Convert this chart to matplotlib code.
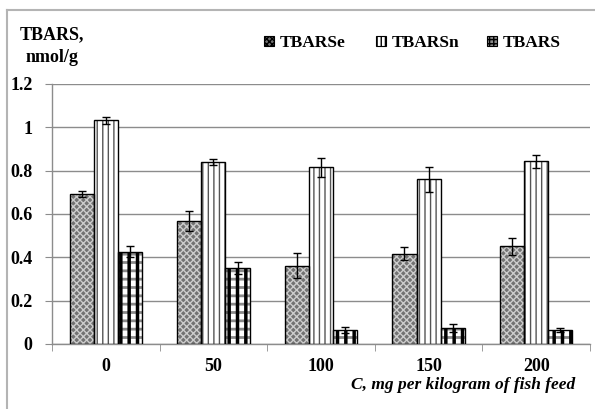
import matplotlib
matplotlib.use("Agg")
import matplotlib.pyplot as plt
import numpy as np
from matplotlib.lines import Line2D
from matplotlib.patches import Patch

categories = ["0", "50", "100", "150", "200"]
tbarse = [0.692, 0.568, 0.361, 0.417, 0.451]
tbarse_err = [0.012, 0.048, 0.057, 0.031, 0.040]
tbarsn = [1.032, 0.841, 0.815, 0.760, 0.843]
tbarsn_err = [0.017, 0.015, 0.045, 0.057, 0.029]
tbars = [0.426, 0.352, 0.065, 0.074, 0.065]
tbars_err = [0.026, 0.028, 0.014, 0.017, 0.011]
yticks = [0, 0.2, 0.4, 0.6, 0.8, 1, 1.2]
ytick_labels = ["0", "0.2", "0.4", "0.6", "0.8", "1", "1.2"]
series_names = ["TBARSe", "TBARSn", "TBARS"]

plt.rcParams['font.family'] = ['Liberation Serif', 'DejaVu Serif']
plt.rcParams['hatch.linewidth'] = 1.0

fig = plt.figure(figsize=(5.95, 4.09), dpi=100)
ax = fig.add_axes([52/595, 1-344/409, 538/595, 260/409])

x = np.arange(len(categories))
w = 0.224

def set_hlw(patch, lw):
    if hasattr(patch, 'set_hatch_linewidth'):
        patch.set_hatch_linewidth(lw)

def draw(vals, errs, offset, layers):
    pos = x + offset
    for fc, hatch, hc, hlw in layers:
        with plt.rc_context({'hatch.linewidth': hlw}):
            bars = ax.bar(pos, vals, w, color=fc if fc else 'none', hatch=hatch,
                          edgecolor=hc, linewidth=0, zorder=2)
        for b in bars:
            set_hlw(b, hlw)
    ax.bar(pos, vals, w, color='none', edgecolor='black', linewidth=1.0, zorder=3)
    ax.errorbar(pos, vals, yerr=errs, fmt='none', ecolor='black', elinewidth=1.0,
                capsize=3, capthick=1.0, zorder=4)

se_layers = [('#727272', 'xxxxx', '#cccccc', 1.0)]
sn_layers = [('white', '|||', '#555555', 1.0)]
tb_layers = [('white', '--', '#8a8a8a', 2.0), ('none', '||', 'black', 2.5)]
draw(tbarse, tbarse_err, -w, se_layers)
draw(tbarsn, tbarsn_err, 0, sn_layers)
draw(tbars, tbars_err, w, tb_layers)

ax.set_xlim(-0.5, len(categories) - 0.5)
ax.set_ylim(0, 1.2)
ax.set_yticks(yticks)
ax.set_yticklabels(ytick_labels, fontsize=13, fontweight='bold')
ax.yaxis.grid(True, color='#8c8c8c', linewidth=1.0, zorder=0)
ax.set_axisbelow(True)
ax.set_xticks(x)
ax.set_xticklabels(categories, fontsize=13, fontweight='bold')
ax.set_xticks(np.arange(len(categories) + 1) - 0.5, minor=True)
ax.tick_params(axis='x', which='major', length=0, pad=10)
ax.tick_params(axis='x', which='minor', length=5, color='#8c8c8c', direction='out')
ax.tick_params(axis='y', length=5, color='#8c8c8c', direction='out', pad=9)
for s in ['top', 'right']:
    ax.spines[s].set_visible(False)
for s in ['left', 'bottom']:
    ax.spines[s].set_color('#8c8c8c')
    ax.spines[s].set_linewidth(1.0)

fig.text(575/595, 1-385/409, "C, mg per kilogram of fish feed", ha='right', va='center',
         fontsize=12.5, fontweight='bold', fontstyle='italic')
fig.text(51.5/595, 1-39/409, "TBARS,", ha='center', va='baseline',
         fontsize=13, fontweight='bold')
fig.text(51.5/595, 1-62/409, "nmol/g", ha='center', va='baseline',
         fontsize=13, fontweight='bold')

handles = [
    Patch(facecolor='#727272', hatch='xxxxxx', edgecolor='#cccccc', linewidth=0),
    Patch(facecolor='white', hatch='||||', edgecolor='#555555', linewidth=0),
    Patch(facecolor='#8a8a8a', hatch='++++', edgecolor='black', linewidth=0),
]
marker_left = [264, 376, 487]
for h, name, mx in zip(handles, series_names, marker_left):
    leg = fig.legend([h], [name], loc='center left',
                     bbox_to_anchor=(mx/595, 1-43/409), frameon=False,
                     borderpad=0, borderaxespad=0,
                     handlelength=0.55, handleheight=0.55, handletextpad=0.35,
                     prop={'size': 12.5, 'weight': 'bold'})
    for lh in leg.legend_handles:
        lh.set_edgecolor('black')
        lh.set_linewidth(0.8)

fig.add_artist(Line2D([7/595, 7/595], [0, 1-10/409], color='#b4b4b4', linewidth=1.5,
                      transform=fig.transFigure))
fig.add_artist(Line2D([7/595, 1], [1-10/409, 1-10/409], color='#b4b4b4', linewidth=1.5,
                      transform=fig.transFigure))

fig.savefig("out.png", dpi=100)
